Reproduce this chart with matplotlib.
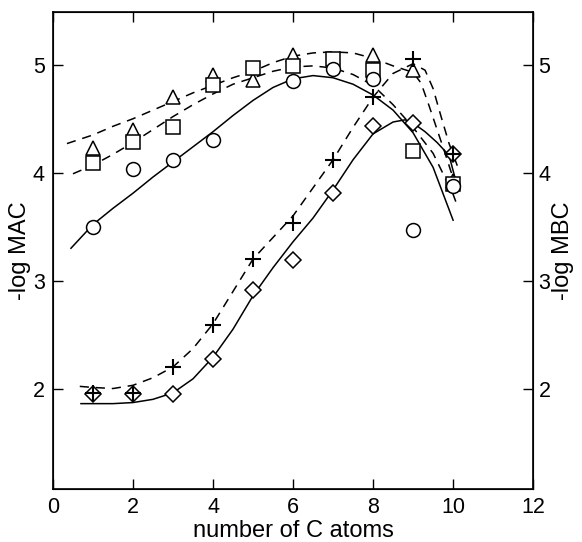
import matplotlib
matplotlib.use("Agg")
import matplotlib.pyplot as plt

plt.rcParams['font.family'] = ['Liberation Sans', 'DejaVu Sans']

# measured points (number of C atoms vs -log value)
tri_x = [1, 2, 3, 4, 5, 6, 8, 9, 10]
tri_y = [4.23, 4.40, 4.70, 4.91, 4.86, 5.09, 5.09, 4.95, 3.92]
sq_x = [1, 2, 3, 4, 5, 6, 7, 8, 9, 10]
sq_y = [4.09, 4.28, 4.42, 4.81, 4.97, 4.99, 5.05, 4.95, 4.20, 3.90]
circ_x = [1, 2, 3, 4, 6, 7, 8, 9, 10]
circ_y = [3.50, 4.03, 4.12, 4.30, 4.85, 4.96, 4.87, 3.47, 3.88]
plus_x = [1, 2, 3, 4, 5, 6, 7, 8, 9, 10]
plus_y = [1.96, 1.96, 2.20, 2.59, 3.20, 3.53, 4.12, 4.70, 5.05, 4.17]
diam_x = [1, 2, 3, 4, 5, 6, 7, 8, 9, 10]
diam_y = [1.95, 1.95, 1.95, 2.27, 2.91, 3.19, 3.81, 4.43, 4.46, 4.17]

# fitted curves
circ_fit_x = [0.45, 1, 1.5, 2, 2.5, 3, 3.5, 4, 4.5, 5, 5.5, 6, 6.5, 7, 7.5, 8, 8.5, 9, 9.5, 10]
circ_fit_y = [3.30, 3.52, 3.67, 3.81, 3.96, 4.10, 4.24, 4.38, 4.53, 4.67, 4.79, 4.87, 4.90, 4.88,
              4.82, 4.72, 4.58, 4.37, 4.05, 3.56]
tri_fit_x = [0.35, 1, 1.5, 2, 2.5, 3, 3.5, 4, 4.5, 5, 5.5, 6, 6.5, 7, 7.5, 8, 8.5, 9, 9.2, 9.4,
             9.6, 9.8, 10]
tri_fit_y = [4.27, 4.35, 4.43, 4.50, 4.58, 4.66, 4.74, 4.81, 4.88, 4.94, 5.02, 5.08, 5.11, 5.12,
             5.11, 5.06, 4.99, 4.93, 4.83, 4.62, 4.40, 4.18, 3.95]
sq_fit_x = [0.5, 1, 1.5, 2, 2.5, 3, 3.5, 4, 4.5, 5, 5.5, 6, 6.5, 7, 7.5, 8, 8.5, 9, 9.5, 10, 10.1]
sq_fit_y = [3.99, 4.07, 4.17, 4.28, 4.40, 4.52, 4.63, 4.73, 4.82, 4.88, 4.94, 4.98, 4.99, 4.97,
            4.91, 4.81, 4.63, 4.42, 4.18, 3.80, 3.70]
plus_fit_x = [0.67, 1, 1.5, 2, 2.5, 3, 3.5, 4, 4.5, 5, 5.5, 6, 6.5, 7, 7.5, 8, 8.5, 9, 9.3, 9.5,
              9.7, 9.9, 10.15]
plus_fit_y = [2.02, 2.01, 2.00, 2.03, 2.10, 2.20, 2.37, 2.60, 2.90, 3.20, 3.40, 3.60, 3.86, 4.12,
              4.42, 4.70, 4.92, 5.01, 4.95, 4.78, 4.52, 4.27, 4.02]
diam_fit_x = [0.7, 1, 1.5, 2, 2.5, 3, 3.5, 4, 4.5, 5, 5.5, 6, 6.5, 7, 7.5, 8, 8.5, 8.8, 9, 9.3,
              9.6, 9.9, 10.05]
diam_fit_y = [1.86, 1.86, 1.86, 1.87, 1.90, 1.96, 2.09, 2.29, 2.55, 2.86, 3.12, 3.36, 3.58, 3.84,
              4.12, 4.36, 4.47, 4.49, 4.46, 4.38, 4.28, 4.16, 3.95]

x_ticks = [0, 2, 4, 6, 8, 10, 12]
y_ticks = [2, 3, 4, 5]

fig = plt.figure(figsize=(5.82, 5.42), dpi=100)
ax = fig.add_axes([0.091, 0.098, 0.825, 0.88])

dash = (6, 4.5)
ax.plot(circ_fit_x, circ_fit_y, color='black', lw=1.1)
ax.plot(diam_fit_x, diam_fit_y, color='black', lw=1.1)
ax.plot(tri_fit_x, tri_fit_y, color='black', lw=1.1, dashes=dash)
ax.plot(sq_fit_x, sq_fit_y, color='black', lw=1.1, dashes=dash)
ax.plot(plus_fit_x, plus_fit_y, color='black', lw=1.1, dashes=dash)

mk = dict(linestyle='none', color='black', markerfacecolor='white', markeredgewidth=1.1)
ax.plot(tri_x, tri_y, marker='^', markersize=10, **mk)
ax.plot(sq_x, sq_y, marker='s', markersize=9.5, **mk)
ax.plot(circ_x, circ_y, marker='o', markersize=10, **mk)
ax.plot(diam_x, diam_y, marker='D', markersize=8, **mk)
ax.plot(plus_x, plus_y, marker='+', markersize=12, linestyle='none', color='black',
        markeredgewidth=1.5)

ax.set_xlim(0, 12)
ax.set_ylim(1.07, 5.49)
ax.set_xticks(x_ticks)
ax.set_yticks(y_ticks)
ax.tick_params(direction='in', length=7, width=1, labelsize=15.5, top=True, pad=6)
ax.set_xlabel('number of C atoms', fontsize=17, labelpad=1)
ax.set_ylabel('-log MAC', fontsize=17, labelpad=1)
for s in ax.spines.values():
    s.set_linewidth(1.2)

ax2 = ax.twinx()
ax2.set_position(ax.get_position())
ax2.set_ylim(ax.get_ylim())
ax2.set_yticks(y_ticks)
ax2.tick_params(direction='in', length=7, width=1, labelsize=15.5, pad=4)
ax2.set_ylabel('-log MBC', fontsize=17, labelpad=1)

fig.savefig('out.png', dpi=100)
